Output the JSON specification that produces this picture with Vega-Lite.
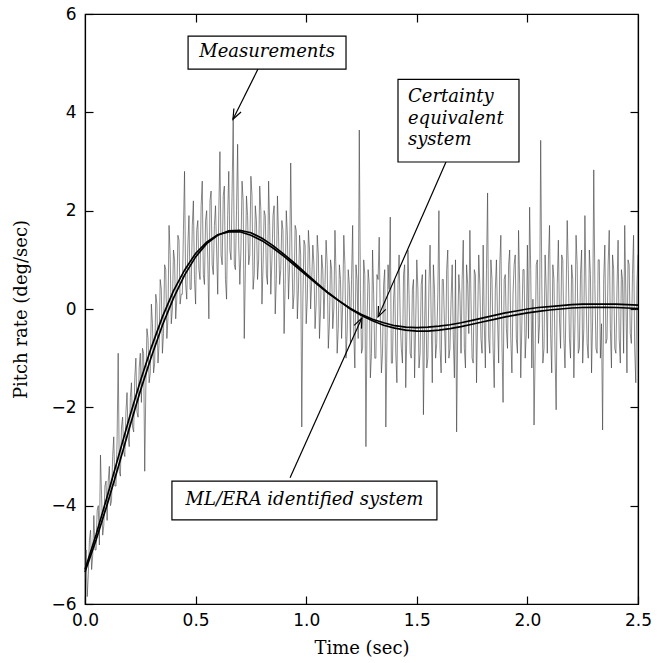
{
  "$schema": "https://vega.github.io/schema/vega-lite/v6.json",
  "width": 553,
  "height": 590,
  "autosize": "none",
  "padding": {"left": 85, "top": 14, "right": 28, "bottom": 59},
  "background": "white",
  "config": {
    "view": {"stroke": "black", "strokeWidth": 1.2},
    "axis": {"grid": false, "domainColor": "black", "tickColor": "black", "labelColor": "black", "titleColor": "black", "domainWidth": 1.2, "tickWidth": 1.2}
  },
  "datasets": {
    "meas": [
      {"t":0.00,"m":-5.5},{"t":0.01,"m":-5.85},{"t":0.02,"m":-4.7},{"t":0.03,"m":-5.3},{"t":0.04,"m":-4.2},{"t":0.05,"m":-4.9},{"t":0.06,"m":-4.0},{"t":0.07,"m":-2.97},{"t":0.08,"m":-4.6},{"t":0.09,"m":-3.6},
      {"t":0.10,"m":-4.3},{"t":0.11,"m":-3.2},{"t":0.12,"m":-3.9},{"t":0.13,"m":-2.6},{"t":0.14,"m":-3.6},{"t":0.15,"m":-0.9},{"t":0.16,"m":-3.4},{"t":0.17,"m":-2.2},{"t":0.18,"m":-3.0},{"t":0.19,"m":-1.7},
      {"t":0.20,"m":-2.8},{"t":0.21,"m":-1.5},{"t":0.22,"m":-2.5},{"t":0.23,"m":-1.0},{"t":0.24,"m":-2.2},{"t":0.25,"m":-0.9},{"t":0.26,"m":-0.8},{"t":0.27,"m":-3.3},{"t":0.28,"m":-0.4},{"t":0.29,"m":-1.5},
      {"t":0.30,"m":0.1},{"t":0.31,"m":-1.3},{"t":0.32,"m":0.3},{"t":0.33,"m":-1.1},{"t":0.34,"m":0.6},{"t":0.35,"m":-0.9},{"t":0.36,"m":0.9},{"t":0.37,"m":-0.6},{"t":0.38,"m":1.7},{"t":0.39,"m":-0.3},
      {"t":0.40,"m":1.2},{"t":0.41,"m":-0.2},{"t":0.42,"m":1.5},{"t":0.43,"m":0.1},{"t":0.44,"m":0.3},{"t":0.45,"m":2.8},{"t":0.46,"m":0.2},{"t":0.47,"m":1.9},{"t":0.48,"m":0.4},{"t":0.49,"m":2.2},
      {"t":0.50,"m":0.1},{"t":0.51,"m":1.8},{"t":0.52,"m":0.6},{"t":0.53,"m":2.6},{"t":0.54,"m":0.5},{"t":0.55,"m":2.0},{"t":0.56,"m":-0.2},{"t":0.57,"m":2.4},{"t":0.58,"m":0.7},{"t":0.59,"m":2.1},
      {"t":0.60,"m":0.3},{"t":0.61,"m":3.2},{"t":0.62,"m":0.9},{"t":0.63,"m":2.5},{"t":0.64,"m":0.2},{"t":0.65,"m":2.8},{"t":0.66,"m":1.0},{"t":0.67,"m":3.9},{"t":0.68,"m":0.8},{"t":0.69,"m":3.35},
      {"t":0.70,"m":0.5},{"t":0.71,"m":2.6},{"t":0.72,"m":-0.6},{"t":0.73,"m":2.3},{"t":0.74,"m":0.9},{"t":0.75,"m":2.7},{"t":0.76,"m":0.4},{"t":0.77,"m":2.1},{"t":0.78,"m":0.6},{"t":0.79,"m":2.5},
      {"t":0.80,"m":0.1},{"t":0.81,"m":2.0},{"t":0.82,"m":0.7},{"t":0.83,"m":2.6},{"t":0.84,"m":0.3},{"t":0.85,"m":1.9},{"t":0.86,"m":-0.1},{"t":0.87,"m":2.3},{"t":0.88,"m":0.5},{"t":0.89,"m":1.8},
      {"t":0.90,"m":-0.5},{"t":0.91,"m":2.0},{"t":0.92,"m":0.2},{"t":0.93,"m":2.97},{"t":0.94,"m":0.0},{"t":0.95,"m":1.7},{"t":0.96,"m":-0.2},{"t":0.97,"m":1.5},{"t":0.98,"m":-2.4},{"t":0.99,"m":1.4},
      {"t":1.00,"m":-0.3},{"t":1.01,"m":1.6},{"t":1.02,"m":0.0},{"t":1.03,"m":1.3},{"t":1.04,"m":-0.4},{"t":1.05,"m":1.5},{"t":1.06,"m":-0.6},{"t":1.07,"m":1.1},{"t":1.08,"m":-0.2},{"t":1.09,"m":1.4},
      {"t":1.10,"m":-0.8},{"t":1.11,"m":1.0},{"t":1.12,"m":-0.4},{"t":1.13,"m":1.6},{"t":1.14,"m":-0.9},{"t":1.15,"m":0.9},{"t":1.16,"m":-0.6},{"t":1.17,"m":1.5},{"t":1.18,"m":-1.0},{"t":1.19,"m":0.8},
      {"t":1.20,"m":-0.7},{"t":1.21,"m":1.7},{"t":1.22,"m":-1.2},{"t":1.23,"m":0.6},{"t":1.24,"m":3.64},{"t":1.25,"m":-0.9},{"t":1.26,"m":1.0},{"t":1.27,"m":-2.8},{"t":1.28,"m":0.8},{"t":1.29,"m":-1.4},
      {"t":1.30,"m":1.2},{"t":1.31,"m":-1.0},{"t":1.32,"m":0.7},{"t":1.33,"m":1.46},{"t":1.34,"m":-1.3},{"t":1.35,"m":0.5},{"t":1.36,"m":-2.4},{"t":1.37,"m":0.9},{"t":1.38,"m":1.87},{"t":1.39,"m":-1.1},
      {"t":1.40,"m":0.6},{"t":1.41,"m":-1.5},{"t":1.42,"m":1.1},{"t":1.43,"m":-0.8},{"t":1.44,"m":0.7},{"t":1.45,"m":-1.6},{"t":1.46,"m":1.2},{"t":1.47,"m":-0.9},{"t":1.48,"m":0.4},{"t":1.49,"m":-1.4},
      {"t":1.50,"m":1.0},{"t":1.51,"m":-1.2},{"t":1.52,"m":0.5},{"t":1.53,"m":-2.15},{"t":1.54,"m":0.8},{"t":1.55,"m":-1.0},{"t":1.56,"m":1.3},{"t":1.57,"m":-1.5},{"t":1.58,"m":0.4},{"t":1.59,"m":-0.7},
      {"t":1.60,"m":2.0},{"t":1.61,"m":-1.3},{"t":1.62,"m":0.6},{"t":1.63,"m":-1.1},{"t":1.64,"m":1.2},{"t":1.65,"m":-0.8},{"t":1.66,"m":0.9},{"t":1.67,"m":-1.4},{"t":1.68,"m":-2.5},{"t":1.69,"m":0.7},
      {"t":1.70,"m":-0.9},{"t":1.71,"m":1.4},{"t":1.72,"m":-1.2},{"t":1.73,"m":0.5},{"t":1.74,"m":1.6},{"t":1.75,"m":-1.0},{"t":1.76,"m":0.8},{"t":1.77,"m":-1.5},{"t":1.78,"m":1.1},{"t":1.79,"m":-0.6},
      {"t":1.80,"m":1.3},{"t":1.81,"m":-1.2},{"t":1.82,"m":2.36},{"t":1.83,"m":-0.9},{"t":1.84,"m":0.6},{"t":1.85,"m":-1.6},{"t":1.86,"m":1.0},{"t":1.87,"m":-1.1},{"t":1.88,"m":1.5},{"t":1.89,"m":-1.9},
      {"t":1.90,"m":0.7},{"t":1.91,"m":-0.8},{"t":1.92,"m":1.2},{"t":1.93,"m":-1.3},{"t":1.94,"m":0.9},{"t":1.95,"m":-0.6},{"t":1.96,"m":1.6},{"t":1.97,"m":-1.4},{"t":1.98,"m":0.8},{"t":1.99,"m":-1.0},
      {"t":2.00,"m":1.3},{"t":2.01,"m":2.07},{"t":2.02,"m":-1.2},{"t":2.03,"m":-2.36},{"t":2.04,"m":0.9},{"t":2.05,"m":-0.7},{"t":2.06,"m":3.43},{"t":2.07,"m":-1.1},{"t":2.08,"m":1.1},{"t":2.09,"m":-0.9},
      {"t":2.10,"m":1.7},{"t":2.11,"m":-1.3},{"t":2.12,"m":0.6},{"t":2.13,"m":-2.05},{"t":2.14,"m":1.4},{"t":2.15,"m":-0.8},{"t":2.16,"m":1.0},{"t":2.17,"m":-1.2},{"t":2.18,"m":1.8},{"t":2.19,"m":-0.6},
      {"t":2.20,"m":0.9},{"t":2.21,"m":-1.4},{"t":2.22,"m":1.5},{"t":2.23,"m":-0.9},{"t":2.24,"m":0.7},{"t":2.25,"m":-1.1},{"t":2.26,"m":1.9},{"t":2.27,"m":-0.7},{"t":2.28,"m":1.2},{"t":2.29,"m":-1.3},
      {"t":2.30,"m":2.83},{"t":2.31,"m":-0.8},{"t":2.32,"m":1.0},{"t":2.33,"m":-1.0},{"t":2.34,"m":-2.46},{"t":2.35,"m":1.3},{"t":2.36,"m":-0.6},{"t":2.37,"m":1.6},{"t":2.38,"m":-1.2},{"t":2.39,"m":0.8},
      {"t":2.40,"m":-0.9},{"t":2.41,"m":1.4},{"t":2.42,"m":-1.1},{"t":2.43,"m":0.6},{"t":2.44,"m":1.7},{"t":2.45,"m":-1.3},{"t":2.46,"m":0.9},{"t":2.47,"m":-0.7},{"t":2.48,"m":1.5},{"t":2.49,"m":-1.5},
      {"t":2.50,"m":1.1},
      {"t":0.005,"m":-4.9},{"t":0.015,"m":-5.4},{"t":0.025,"m":-4.5},{"t":0.035,"m":-5.0},{"t":0.045,"m":-4.9},{"t":0.055,"m":-4.1},{"t":0.065,"m":-4.8},{"t":0.075,"m":-3.8},{"t":0.085,"m":-4.4},{"t":0.095,"m":-3.5},
      {"t":0.105,"m":-3.5},{"t":0.115,"m":-4.0},{"t":0.125,"m":-3.0},{"t":0.135,"m":-3.6},{"t":0.145,"m":-2.7},{"t":0.155,"m":-3.3},{"t":0.165,"m":-2.4},{"t":0.175,"m":-2.9},{"t":0.185,"m":-2.1},{"t":0.195,"m":-2.6},
      {"t":0.205,"m":-1.8},{"t":0.215,"m":-2.4},{"t":0.225,"m":-1.4},{"t":0.235,"m":-2.1},{"t":0.245,"m":-1.2},{"t":0.255,"m":-1.9},{"t":0.265,"m":-0.9},{"t":0.275,"m":-1.6},{"t":0.285,"m":-0.6},{"t":0.295,"m":-1.3},
      {"t":0.305,"m":-0.3},{"t":0.315,"m":-1.1},{"t":0.325,"m":0.1},{"t":0.335,"m":-0.7},{"t":0.345,"m":0.4},{"t":0.355,"m":-0.5},{"t":0.365,"m":0.8},{"t":0.375,"m":-0.2},{"t":0.385,"m":1.1},{"t":0.395,"m":0.0},
      {"t":0.405,"m":1.0},{"t":0.415,"m":0.2},{"t":0.425,"m":1.4},{"t":0.435,"m":0.3},{"t":0.445,"m":1.6},{"t":0.455,"m":0.5},{"t":0.465,"m":1.3},{"t":0.475,"m":0.4},{"t":0.485,"m":1.7},{"t":0.495,"m":0.6},
      {"t":0.505,"m":1.6},{"t":0.515,"m":0.8},{"t":0.525,"m":2.1},{"t":0.535,"m":0.7},{"t":0.545,"m":1.8},{"t":0.555,"m":1.0},{"t":0.565,"m":2.2},{"t":0.575,"m":0.9},{"t":0.585,"m":1.7},{"t":0.595,"m":1.2},
      {"t":0.605,"m":2.0},{"t":0.615,"m":1.1},{"t":0.625,"m":2.3},{"t":0.635,"m":0.6},{"t":0.645,"m":1.9},{"t":0.655,"m":1.2},{"t":0.665,"m":2.4},{"t":0.675,"m":0.9},{"t":0.685,"m":2.0},{"t":0.695,"m":1.3},
      {"t":0.705,"m":1.2},{"t":0.715,"m":2.2},{"t":0.725,"m":0.8},{"t":0.735,"m":1.9},{"t":0.745,"m":1.1},{"t":0.755,"m":2.3},{"t":0.765,"m":0.7},{"t":0.775,"m":1.8},{"t":0.785,"m":1.0},{"t":0.795,"m":2.0},
      {"t":0.805,"m":0.9},{"t":0.815,"m":1.9},{"t":0.825,"m":0.5},{"t":0.835,"m":1.7},{"t":0.845,"m":1.0},{"t":0.855,"m":2.1},{"t":0.865,"m":0.6},{"t":0.875,"m":1.5},{"t":0.885,"m":0.8},{"t":0.895,"m":1.6},
      {"t":0.905,"m":0.5},{"t":0.915,"m":1.5},{"t":0.925,"m":0.9},{"t":0.935,"m":1.3},{"t":0.945,"m":0.3},{"t":0.955,"m":1.6},{"t":0.965,"m":0.4},{"t":0.975,"m":1.1},{"t":0.985,"m":0.2},{"t":0.995,"m":1.3},
      {"t":1.005,"m":0.2},{"t":1.015,"m":1.2},{"t":1.025,"m":0.6},{"t":1.035,"m":0.9},{"t":1.045,"m":0.1},{"t":1.055,"m":1.1},{"t":1.065,"m":0.0},{"t":1.075,"m":0.8},{"t":1.085,"m":0.5},{"t":1.095,"m":0.9},
      {"t":1.105,"m":-0.3},{"t":1.115,"m":0.8},{"t":1.125,"m":0.0},{"t":1.135,"m":0.7},{"t":1.145,"m":-0.4},{"t":1.155,"m":0.6},{"t":1.165,"m":0.1},{"t":1.175,"m":0.9},{"t":1.185,"m":-0.5},{"t":1.195,"m":0.5},
      {"t":1.205,"m":0.6},{"t":1.215,"m":-0.5},{"t":1.225,"m":0.9},{"t":1.235,"m":-0.6},{"t":1.245,"m":0.4},{"t":1.255,"m":-0.8},{"t":1.265,"m":0.7},{"t":1.275,"m":-0.3},{"t":1.285,"m":0.5},{"t":1.295,"m":-0.9},
      {"t":1.305,"m":0.3},{"t":1.315,"m":-1.0},{"t":1.325,"m":0.6},{"t":1.335,"m":-0.2},{"t":1.345,"m":-0.9},{"t":1.355,"m":0.8},{"t":1.365,"m":-0.7},{"t":1.375,"m":0.4},{"t":1.385,"m":-1.1},{"t":1.395,"m":0.2},
      {"t":1.405,"m":-0.9},{"t":1.415,"m":0.5},{"t":1.425,"m":-0.2},{"t":1.435,"m":-1.1},{"t":1.445,"m":0.9},{"t":1.455,"m":-0.5},{"t":1.465,"m":0.3},{"t":1.475,"m":-1.0},{"t":1.485,"m":0.6},{"t":1.495,"m":-0.3},
      {"t":1.505,"m":0.4},{"t":1.515,"m":-0.9},{"t":1.525,"m":0.7},{"t":1.535,"m":-0.4},{"t":1.545,"m":-1.2},{"t":1.555,"m":0.5},{"t":1.565,"m":-0.2},{"t":1.575,"m":0.9},{"t":1.585,"m":-1.0},{"t":1.595,"m":0.3},
      {"t":1.605,"m":-0.8},{"t":1.615,"m":0.6},{"t":1.625,"m":-0.3},{"t":1.635,"m":0.8},{"t":1.645,"m":-1.0},{"t":1.655,"m":0.2},{"t":1.665,"m":-0.6},{"t":1.675,"m":1.0},{"t":1.685,"m":-0.4},{"t":1.695,"m":0.3},
      {"t":1.705,"m":0.6},{"t":1.715,"m":-0.8},{"t":1.725,"m":0.9},{"t":1.735,"m":-0.5},{"t":1.745,"m":0.2},{"t":1.755,"m":-1.1},{"t":1.765,"m":0.7},{"t":1.775,"m":-0.2},{"t":1.785,"m":0.5},{"t":1.795,"m":-0.9},
      {"t":1.805,"m":-0.3},{"t":1.815,"m":0.8},{"t":1.825,"m":-0.6},{"t":1.835,"m":1.0},{"t":1.845,"m":-0.8},{"t":1.855,"m":0.4},{"t":1.865,"m":-0.2},{"t":1.875,"m":0.9},{"t":1.885,"m":-0.7},{"t":1.895,"m":0.6},
      {"t":1.905,"m":-0.4},{"t":1.915,"m":0.9},{"t":1.925,"m":-0.6},{"t":1.935,"m":0.3},{"t":1.945,"m":1.1},{"t":1.955,"m":-0.9},{"t":1.965,"m":0.5},{"t":1.975,"m":-0.3},{"t":1.985,"m":0.8},{"t":1.995,"m":-0.5},
      {"t":2.005,"m":-0.6},{"t":2.015,"m":0.8},{"t":2.025,"m":0.2},{"t":2.035,"m":-0.9},{"t":2.045,"m":1.0},{"t":2.055,"m":-0.3},{"t":2.065,"m":0.6},{"t":2.075,"m":-0.8},{"t":2.085,"m":0.4},{"t":2.095,"m":1.0},
      {"t":2.105,"m":-0.5},{"t":2.115,"m":0.9},{"t":2.125,"m":-0.9},{"t":2.135,"m":0.5},{"t":2.145,"m":-0.2},{"t":2.155,"m":1.1},{"t":2.165,"m":-0.6},{"t":2.175,"m":0.3},{"t":2.185,"m":0.8},{"t":2.195,"m":-1.0},
      {"t":2.205,"m":0.6},{"t":2.215,"m":-0.3},{"t":2.225,"m":0.9},{"t":2.235,"m":-0.8},{"t":2.245,"m":1.2},{"t":2.255,"m":-0.4},{"t":2.265,"m":0.4},{"t":2.275,"m":-1.0},{"t":2.285,"m":0.7},{"t":2.295,"m":-0.2},
      {"t":2.305,"m":0.5},{"t":2.315,"m":-0.9},{"t":2.325,"m":1.0},{"t":2.335,"m":-0.3},{"t":2.345,"m":0.6},{"t":2.355,"m":-0.7},{"t":2.365,"m":0.9},{"t":2.375,"m":-0.4},{"t":2.385,"m":1.1},{"t":2.395,"m":-0.8},
      {"t":2.405,"m":0.4},{"t":2.415,"m":-0.6},{"t":2.425,"m":0.8},{"t":2.435,"m":-0.9},{"t":2.445,"m":0.3},{"t":2.455,"m":1.0},{"t":2.465,"m":-0.5},{"t":2.475,"m":0.7},{"t":2.485,"m":-0.8},{"t":2.495,"m":0.5}
    ],
    "model": [
      {"s":"ML/ERA","t":0.00,"v":-5.30},{"s":"ML/ERA","t":0.05,"v":-4.59},{"s":"ML/ERA","t":0.10,"v":-3.82},{"s":"ML/ERA","t":0.15,"v":-3.02},{"s":"ML/ERA","t":0.20,"v":-2.22},{"s":"ML/ERA","t":0.25,"v":-1.47},{"s":"ML/ERA","t":0.30,"v":-0.78},{"s":"ML/ERA","t":0.35,"v":-0.16},{"s":"ML/ERA","t":0.40,"v":0.37},{"s":"ML/ERA","t":0.45,"v":0.79},
      {"s":"ML/ERA","t":0.50,"v":1.13},{"s":"ML/ERA","t":0.55,"v":1.36},{"s":"ML/ERA","t":0.60,"v":1.51},{"s":"ML/ERA","t":0.65,"v":1.57},{"s":"ML/ERA","t":0.70,"v":1.57},{"s":"ML/ERA","t":0.75,"v":1.50},{"s":"ML/ERA","t":0.80,"v":1.39},{"s":"ML/ERA","t":0.85,"v":1.24},{"s":"ML/ERA","t":0.90,"v":1.07},{"s":"ML/ERA","t":0.95,"v":0.88},
      {"s":"ML/ERA","t":1.00,"v":0.69},{"s":"ML/ERA","t":1.05,"v":0.50},{"s":"ML/ERA","t":1.10,"v":0.32},{"s":"ML/ERA","t":1.15,"v":0.16},{"s":"ML/ERA","t":1.20,"v":0.01},{"s":"ML/ERA","t":1.25,"v":-0.11},{"s":"ML/ERA","t":1.30,"v":-0.21},{"s":"ML/ERA","t":1.35,"v":-0.28},{"s":"ML/ERA","t":1.40,"v":-0.34},{"s":"ML/ERA","t":1.45,"v":-0.37},
      {"s":"ML/ERA","t":1.50,"v":-0.38},{"s":"ML/ERA","t":1.55,"v":-0.37},{"s":"ML/ERA","t":1.60,"v":-0.35},{"s":"ML/ERA","t":1.65,"v":-0.32},{"s":"ML/ERA","t":1.70,"v":-0.28},{"s":"ML/ERA","t":1.75,"v":-0.23},{"s":"ML/ERA","t":1.80,"v":-0.18},{"s":"ML/ERA","t":1.85,"v":-0.13},{"s":"ML/ERA","t":1.90,"v":-0.08},{"s":"ML/ERA","t":1.95,"v":-0.04},
      {"s":"ML/ERA","t":2.00,"v":0.00},{"s":"ML/ERA","t":2.05,"v":0.03},{"s":"ML/ERA","t":2.10,"v":0.05},{"s":"ML/ERA","t":2.15,"v":0.07},{"s":"ML/ERA","t":2.20,"v":0.09},{"s":"ML/ERA","t":2.25,"v":0.10},{"s":"ML/ERA","t":2.30,"v":0.10},{"s":"ML/ERA","t":2.35,"v":0.10},{"s":"ML/ERA","t":2.40,"v":0.10},{"s":"ML/ERA","t":2.45,"v":0.09},{"s":"ML/ERA","t":2.50,"v":0.08},
      {"s":"CE","t":0.00,"v":-5.35},{"s":"CE","t":0.05,"v":-4.70},{"s":"CE","t":0.10,"v":-3.98},{"s":"CE","t":0.15,"v":-3.22},{"s":"CE","t":0.20,"v":-2.43},{"s":"CE","t":0.25,"v":-1.67},{"s":"CE","t":0.30,"v":-0.97},{"s":"CE","t":0.35,"v":-0.33},{"s":"CE","t":0.40,"v":0.22},{"s":"CE","t":0.45,"v":0.69},
      {"s":"CE","t":0.50,"v":1.06},{"s":"CE","t":0.55,"v":1.33},{"s":"CE","t":0.60,"v":1.50},{"s":"CE","t":0.65,"v":1.59},{"s":"CE","t":0.70,"v":1.60},{"s":"CE","t":0.75,"v":1.55},{"s":"CE","t":0.80,"v":1.44},{"s":"CE","t":0.85,"v":1.29},{"s":"CE","t":0.90,"v":1.11},{"s":"CE","t":0.95,"v":0.92},
      {"s":"CE","t":1.00,"v":0.72},{"s":"CE","t":1.05,"v":0.52},{"s":"CE","t":1.10,"v":0.33},{"s":"CE","t":1.15,"v":0.16},{"s":"CE","t":1.20,"v":0.00},{"s":"CE","t":1.25,"v":-0.13},{"s":"CE","t":1.30,"v":-0.24},{"s":"CE","t":1.35,"v":-0.33},{"s":"CE","t":1.40,"v":-0.39},{"s":"CE","t":1.45,"v":-0.43},
      {"s":"CE","t":1.50,"v":-0.45},{"s":"CE","t":1.55,"v":-0.45},{"s":"CE","t":1.60,"v":-0.43},{"s":"CE","t":1.65,"v":-0.40},{"s":"CE","t":1.70,"v":-0.36},{"s":"CE","t":1.75,"v":-0.31},{"s":"CE","t":1.80,"v":-0.26},{"s":"CE","t":1.85,"v":-0.21},{"s":"CE","t":1.90,"v":-0.16},{"s":"CE","t":1.95,"v":-0.12},
      {"s":"CE","t":2.00,"v":-0.08},{"s":"CE","t":2.05,"v":-0.05},{"s":"CE","t":2.10,"v":-0.02},{"s":"CE","t":2.15,"v":0.00},{"s":"CE","t":2.20,"v":0.02},{"s":"CE","t":2.25,"v":0.03},{"s":"CE","t":2.30,"v":0.035},{"s":"CE","t":2.35,"v":0.035},{"s":"CE","t":2.40,"v":0.03},{"s":"CE","t":2.45,"v":0.02},{"s":"CE","t":2.50,"v":0.01}
    ],
    "boxes": [
      {"name":"Measurements","x1":0.466,"x2":1.180,"y1":4.88,"y2":5.55},
      {"name":"Certainty","x1":1.415,"x2":1.962,"y1":2.99,"y2":4.67},
      {"name":"MLERA","x1":0.393,"x2":1.591,"y1":-4.29,"y2":-3.50}
    ],
    "arrows": [
      {"name":"Measurements","tx":0.782,"ty":4.88,"hx":0.669,"hy":3.86,"ang":206.6},
      {"name":"Certainty","tx":1.632,"ty":2.99,"hx":1.325,"hy":-0.16,"ang":203.7},
      {"name":"MLERA","tx":0.927,"ty":-3.43,"hx":1.252,"hy":-0.18,"ang":24.2}
    ],
    "labelsCenter": [
      {"txt":"Measurements","x":0.823,"y":5.22},
      {"txt":"ML/ERA identified system","x":0.992,"y":-3.88}
    ],
    "labelsLeft": [
      {"txt":"Certainty","x":1.46,"y":4.31},
      {"txt":"equivalent","x":1.46,"y":3.86},
      {"txt":"system","x":1.46,"y":3.43}
    ]
  },
  "resolve": {"axis": {"x": "independent", "y": "independent"}},
  "layer": [
    {
      "data": {"name": "meas"},
      "mark": {"type": "line", "color": "#3a3a3a", "strokeWidth": 0.6, "clip": true},
      "encoding": {
        "x": {"field": "t", "type": "quantitative", "scale": {"domain": [0, 2.5], "nice": false, "zero": false},
          "axis": {"orient": "bottom", "title": "Time (sec)", "values": [0, 0.5, 1, 1.5, 2, 2.5], "format": ".1f", "tickSize": -8, "labelPadding": 16, "labelFlush": false, "labelFont": "DejaVu Sans", "labelFontSize": 17, "titleFont": "DejaVu Serif", "titleFontSize": 18, "titleFontWeight": "normal", "titlePadding": 11}},
        "y": {"field": "m", "type": "quantitative", "scale": {"domain": [-6, 6], "nice": false, "zero": false},
          "axis": {"orient": "left", "title": "Pitch rate (deg/sec)", "values": [-6, -4, -2, 0, 2, 4, 6], "format": "d", "tickSize": -8, "labelPadding": 17, "labelFlush": false, "labelFont": "DejaVu Sans", "labelFontSize": 17, "titleFont": "DejaVu Serif", "titleFontSize": 18, "titleFontWeight": "normal", "titlePadding": 20}}
      }
    },
    {
      "data": {"name": "meas"},
      "mark": {"type": "point", "opacity": 0},
      "encoding": {
        "x": {"field": "t", "type": "quantitative", "axis": {"orient": "top", "title": null, "labels": false, "values": [0.5, 1, 1.5, 2], "tickSize": -8}},
        "y": {"field": "m", "type": "quantitative", "axis": {"orient": "right", "title": null, "labels": false, "values": [-4, -2, 0, 2, 4], "tickSize": -8}}
      }
    },
    {
      "data": {"name": "model"},
      "mark": {"type": "line", "color": "black", "strokeWidth": 1.7},
      "encoding": {
        "x": {"field": "t", "type": "quantitative", "axis": null},
        "y": {"field": "v", "type": "quantitative", "axis": null},
        "detail": {"field": "s"}
      }
    },
    {
      "data": {"name": "arrows"},
      "mark": {"type": "rule", "color": "black", "strokeWidth": 1.2},
      "encoding": {
        "x": {"field": "tx", "type": "quantitative", "axis": null},
        "y": {"field": "ty", "type": "quantitative", "axis": null},
        "x2": {"field": "hx"},
        "y2": {"field": "hy"}
      }
    },
    {
      "data": {"name": "arrows"},
      "mark": {"type": "point", "shape": "M-0.4,1L0,0L0.4,1", "filled": false, "color": "black", "strokeWidth": 1.2, "size": 400, "opacity": 1},
      "encoding": {
        "x": {"field": "hx", "type": "quantitative", "axis": null},
        "y": {"field": "hy", "type": "quantitative", "axis": null},
        "angle": {"field": "ang", "type": "quantitative", "scale": null}
      }
    },
    {
      "data": {"name": "boxes"},
      "mark": {"type": "rect", "fill": "white", "stroke": "black", "strokeWidth": 1.2},
      "encoding": {
        "x": {"field": "x1", "type": "quantitative", "axis": null},
        "x2": {"field": "x2"},
        "y": {"field": "y1", "type": "quantitative", "axis": null},
        "y2": {"field": "y2"}
      }
    },
    {
      "data": {"name": "labelsCenter"},
      "mark": {"type": "text", "font": "DejaVu Serif", "fontStyle": "italic", "fontSize": 18, "baseline": "middle", "align": "center", "color": "black"},
      "encoding": {
        "x": {"field": "x", "type": "quantitative", "axis": null},
        "y": {"field": "y", "type": "quantitative", "axis": null},
        "text": {"field": "txt"}
      }
    },
    {
      "data": {"name": "labelsLeft"},
      "mark": {"type": "text", "font": "DejaVu Serif", "fontStyle": "italic", "fontSize": 18, "baseline": "middle", "align": "left", "color": "black"},
      "encoding": {
        "x": {"field": "x", "type": "quantitative", "axis": null},
        "y": {"field": "y", "type": "quantitative", "axis": null},
        "text": {"field": "txt"}
      }
    }
  ]
}
